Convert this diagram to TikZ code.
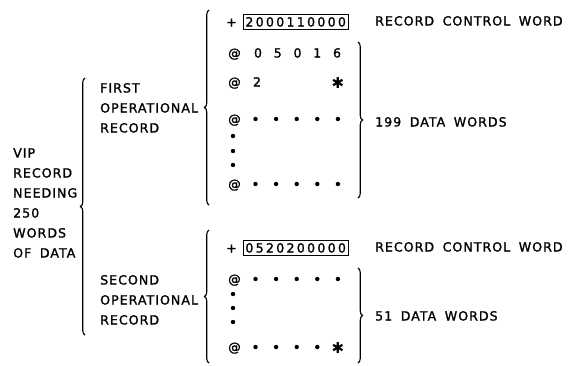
\documentclass[tikz,border=0pt]{standalone}
\usepackage{fontspec}
\setmainfont{DejaVu Sans}[LetterSpace=8, WordSpace=1.7, FakeBold=1.4]
\newfontfamily\starfont{DejaVu Sans}
\usetikzlibrary{decorations.pathreplacing}

\begin{document}
\begin{tikzpicture}[x=1pt,y=-1pt,
    lbl/.style={inner sep=0pt, anchor=west, text height=9pt, text depth=0pt,
      font=\fontsize{12.6}{20}\selectfont},
    wordbox/.style={lbl, draw, line width=0.8pt, inner xsep=2pt, inner ysep=3pt,
      font=\fontsize{12.6}{20}\selectfont\addfontfeature{LetterSpace=18}},
    brc/.style={decorate, decoration={brace, amplitude=4.5pt}, line width=1.1pt},
    starmark/.style={inner sep=0pt, font=\starfont\fontsize{15}{15}\selectfont}]
  \useasboundingbox (0,0) rectangle (569,365);

  % Parámetros
  \def\xa{228}     % columna de las arrobas
  \def\xd{255.5}   % primer punto de una fila
  \def\dd{20.6}    % separación entre puntos
  \def\rd{2.2}     % radio de los puntos

  % Textos de la izquierda
  \foreach \t [count=\i from 0] in {VIP,RECORD,NEEDING,250,WORDS,OF DATA}
    \node[lbl] (vip\i) at (13,153+20*\i) {\t};
  \foreach \t [count=\i from 0] in {FIRST,OPERATIONAL,RECORD}
    \node[lbl] (first\i) at (100,88+20*\i) {\t};
  \foreach \t [count=\i from 0] in {SECOND,OPERATIONAL,RECORD}
    \node[lbl] (second\i) at (100,280+20*\i) {\t};

  % Llaves de la izquierda
  \coordinate (vipTop) at (85,78);
  \coordinate (vipBot) at (85,335);
  \draw[brc] (vipBot) -- (vipTop);
  \coordinate (firstTop) at (209,10);
  \coordinate (firstBot) at (209,205);
  \draw[brc] (firstBot) -- (firstTop);
  \coordinate (secondTop) at (209,230);
  \coordinate (secondBot) at (209,363);
  \draw[brc] (secondBot) -- (secondTop);

  % Primer registro
  \node[lbl] (plusA) at (226,22) {+};
  \node[wordbox] (ctrlA) at (243,22) {2000110000};
  \node[lbl] (ctrlTextA) at (375,21) {RECORD CONTROL WORD};
  \node[lbl] (atA) at (\xa,53) {@};
  \foreach \d [count=\i from 0] in {0,5,0,1,6}
    \node[lbl, anchor=center] (numA\i) at ({258+19.75*\i},53) {\d};
  \node[lbl] (atB) at (\xa,82) {@};
  \node[lbl, anchor=center] (twoB) at (257,82) {2};
  \node[starmark] (starB) at (338,83) {✱};
  \node[lbl] (atC) at (\xa,119) {@};
  \node[lbl] (atD) at (\xa,184) {@};
  \foreach \y in {119,184}
    \foreach \i in {0,...,4}
      \fill ({\xd+\dd*\i},\y) circle (\rd);
  \foreach \y in {136,151,165}
    \fill (233,\y) circle (\rd);

  % Llave de los 199 datos
  \coordinate (dataATop) at (358,42);
  \coordinate (dataABot) at (358,198);
  \draw[brc] (dataATop) -- (dataABot);
  \node[lbl] (dataA) at (375,122) {199 DATA WORDS};

  % Segundo registro
  \node[lbl] (plusE) at (226,248) {+};
  \node[wordbox] (ctrlE) at (243,248) {0520200000};
  \node[lbl] (ctrlTextE) at (375,247) {RECORD CONTROL WORD};
  \node[lbl] (atF) at (\xa,279) {@};
  \node[lbl] (atG) at (\xa,347) {@};
  \foreach \i in {0,...,4}
    \fill ({\xd+\dd*\i},279) circle (\rd);
  \foreach \i in {0,...,3}
    \fill ({\xd+\dd*\i},347) circle (\rd);
  \node[starmark] (starG) at (338,348) {✱};
  \foreach \y in {294,308,322}
    \fill (233,\y) circle (\rd);

  % Llave de los 51 datos
  \coordinate (dataETop) at (358,268);
  \coordinate (dataEBot) at (358,363);
  \draw[brc] (dataETop) -- (dataEBot);
  \node[lbl] (dataE) at (375,316) {51 DATA WORDS};
\end{tikzpicture}
\end{document}
